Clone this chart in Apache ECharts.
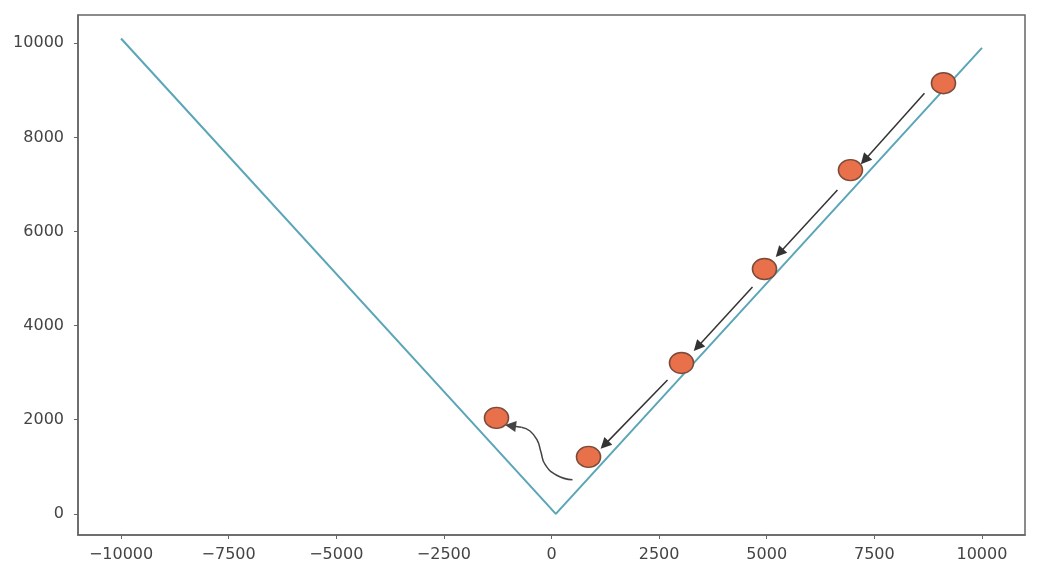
<!DOCTYPE html>
<html>
<head>
<meta charset="utf-8">
<script src="https://cdn.jsdelivr.net/npm/echarts@6/dist/echarts.min.js"></script>
<style>html,body{margin:0;padding:0;background:#fff;}#c{width:1041px;height:585px;}</style>
</head>
<body>
<div id="c"></div>
<script>
// V-shaped curve y = |x - 100|
const curveX = [-10000, 100, 10000];
const curveY = [10100, 0, 9900];
// Orange points (descending steps)
const pointX = [9106, 6945, 4948, 3020, 860, -1278];
const pointY = [9151, 7304, 5202, 3206, 1210, 2038];
// Straight arrows: start and end points
const arrowStartX = [8664, 6643, 4669, 2695];
const arrowStartY = [8938, 6879, 4820, 2845];
const arrowEndX = [7271, 5296, 3391, 1231];
const arrowEndY = [7516, 5541, 3546, 1465];
// Curved (wavy) arrow path; the last segment carries the head
const wavyX = [488, 120, -150, -250, -330, -500, -700, -952];
const wavyY = [722, 820, 1050, 1330, 1560, 1760, 1840, 1870];
// Tick labels
const xTicks = [-10000, -7500, -5000, -2500, 0, 2500, 5000, 7500, 10000];
const yTicks = [0, 2000, 4000, 6000, 8000, 10000];

const chart = echarts.init(document.getElementById('c'), null, {renderer: 'canvas'});
const labelStyle = {color: '#444', fontSize: 16, fontFamily: 'DejaVu Sans'};
const arrowData = arrowStartX.map((sx, i) => ({coords: [[sx, arrowStartY[i]], [arrowEndX[i], arrowEndY[i]]]}));
const n = wavyX.length;
arrowData.push({coords: [[wavyX[n - 2], wavyY[n - 2]], [wavyX[n - 1], wavyY[n - 1]]], lineStyle: {color: '#444'}});
chart.setOption({
  animation: false,
  backgroundColor: '#fff',
  grid: {left: 78, right: 16, top: 15, bottom: 50, show: true, borderColor: '#666', borderWidth: 1.5, backgroundColor: 'transparent'},
  xAxis: {
    type: 'value', min: -11000, max: 11000,
    splitLine: {show: false},
    axisLine: {show: true, onZero: false, lineStyle: {color: '#666', width: 1.5}},
    axisTick: {show: true, length: 4, customValues: xTicks, lineStyle: {color: '#666'}},
    axisLabel: Object.assign({margin: 12, customValues: xTicks, formatter: v => String(v).replace('-', '\u2212')}, labelStyle)
  },
  yAxis: {
    type: 'value', min: -450, max: 10600,
    splitLine: {show: false},
    axisLine: {show: true, onZero: false, lineStyle: {color: '#666', width: 1.5}},
    axisTick: {show: true, length: 4, customValues: yTicks, lineStyle: {color: '#666'}},
    axisLabel: Object.assign({margin: 14, customValues: yTicks, formatter: v => String(v)}, labelStyle)
  },
  series: [
    {
      type: 'line', data: curveX.map((x, i) => [x, curveY[i]]),
      showSymbol: false, symbol: 'none',
      lineStyle: {color: '#5aa6b8', width: 2}, z: 2
    },
    {
      type: 'line', data: wavyX.slice(0, n - 1).map((x, i) => [x, wavyY[i]]),
      showSymbol: false, symbol: 'none', smooth: 0.5,
      lineStyle: {color: '#444', width: 1.5}, z: 3
    },
    {
      type: 'lines', coordinateSystem: 'cartesian2d',
      data: arrowData,
      symbol: ['none', 'triangle'], symbolSize: [9, 11],
      lineStyle: {color: '#333', width: 1.5, opacity: 1}, z: 3
    },
    {
      type: 'scatter', data: pointX.map((x, i) => [x, pointY[i]]),
      symbol: 'circle', symbolSize: [24, 21],
      itemStyle: {color: '#e8704a', borderColor: '#7a4a3a', borderWidth: 1.5, opacity: 1}, z: 4
    }
  ]
});
</script>
</body>
</html>
